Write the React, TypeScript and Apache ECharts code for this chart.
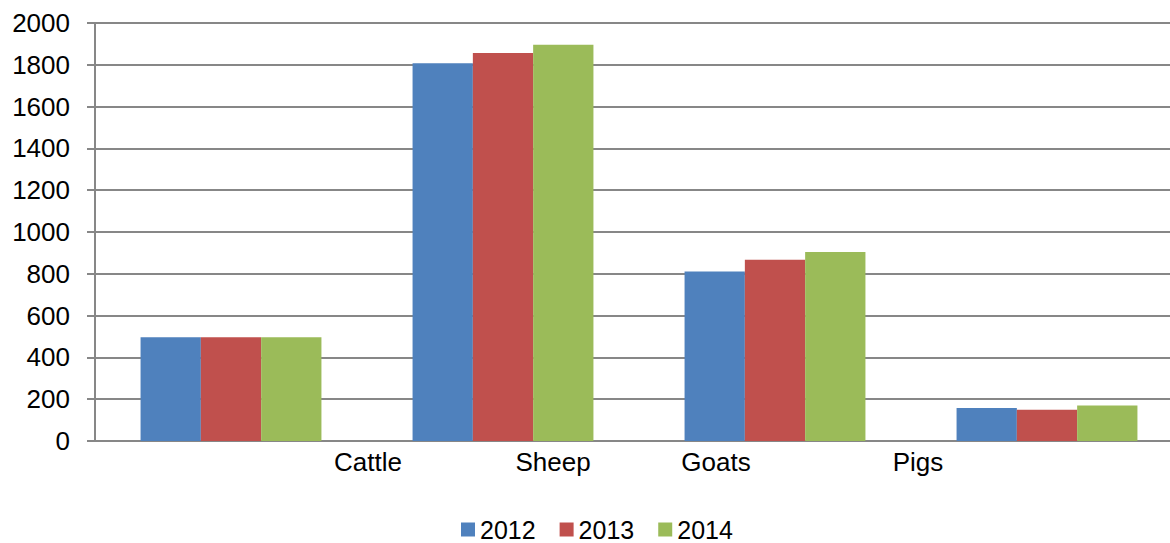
import React, { useEffect, useRef } from "react";
import * as echarts from "echarts";

const categories = ["Cattle", "Sheep", "Goats", "Pigs"];
const years = ["2012", "2013", "2014"];
const values2012 = [497, 1808, 811, 158];
const values2013 = [497, 1856, 867, 150];
const values2014 = [497, 1896, 904, 170];
const colors = ["#4F81BD", "#C0504D", "#9BBB59"];
// horizontal shift (px) of each category label relative to its tick
const labelShift = [137, 50, -59, -129];

export default function App() {
  const ref = useRef<HTMLDivElement>(null);
  useEffect(() => {
    if (!ref.current) return;
    const chart = echarts.init(ref.current, null, { renderer: "svg" });
    const font = "Liberation Sans, Arial, sans-serif";
    const rich: Record<string, any> = {};
    labelShift.forEach((s, i) => {
      rich["c" + i] = {
        fontSize: 26,
        fontFamily: font,
        color: "#000",
        padding: s >= 0 ? [0, 0, 0, 2 * s] : [0, -2 * s, 0, 0],
      };
    });
    chart.setOption({
      animation: false,
      color: colors,
      grid: { left: 95, top: 23, width: 1088, height: 418, containLabel: false },
      legend: {
        data: years,
        left: 456,
        top: 512,
        itemWidth: 14,
        itemHeight: 14,
        itemGap: 24,
        icon: "rect",
        textStyle: { fontSize: 25, fontFamily: font, color: "#000" },
      },
      xAxis: {
        type: "category",
        data: categories,
        axisLine: { lineStyle: { color: "#878787", width: 2 } },
        axisTick: { show: false },
        axisLabel: {
          margin: 8,
          formatter: (v: string, i: number) => `{c${i}|${v}}`,
          rich,
        },
      },
      yAxis: {
        type: "value",
        min: 0,
        max: 2000,
        interval: 200,
        axisLine: { show: true, lineStyle: { color: "#878787", width: 2 } },
        axisTick: { show: true, length: 8, lineStyle: { color: "#878787", width: 2 } },
        splitLine: { lineStyle: { color: "#878787", width: 2 } },
        axisLabel: {
          margin: 25,
          fontSize: 26,
          fontFamily: font,
          color: "#000",
          formatter: (v: number) => String(v),
        },
      },
      series: [values2012, values2013, values2014].map((d, i) => ({
        name: years[i],
        type: "bar",
        data: d,
        barGap: "0%",
        barCategoryGap: "33.5%",
        itemStyle: { color: colors[i] },
      })),
    });
    return () => chart.dispose();
  }, []);
  return (
    <div
      style={{
        position: "absolute",
        left: 0,
        top: 0,
        width: 1170,
        height: 543,
        overflow: "hidden",
        background: "#fff",
      }}
    >
      <div ref={ref} style={{ width: 1200, height: 543 }} />
    </div>
  );
}
